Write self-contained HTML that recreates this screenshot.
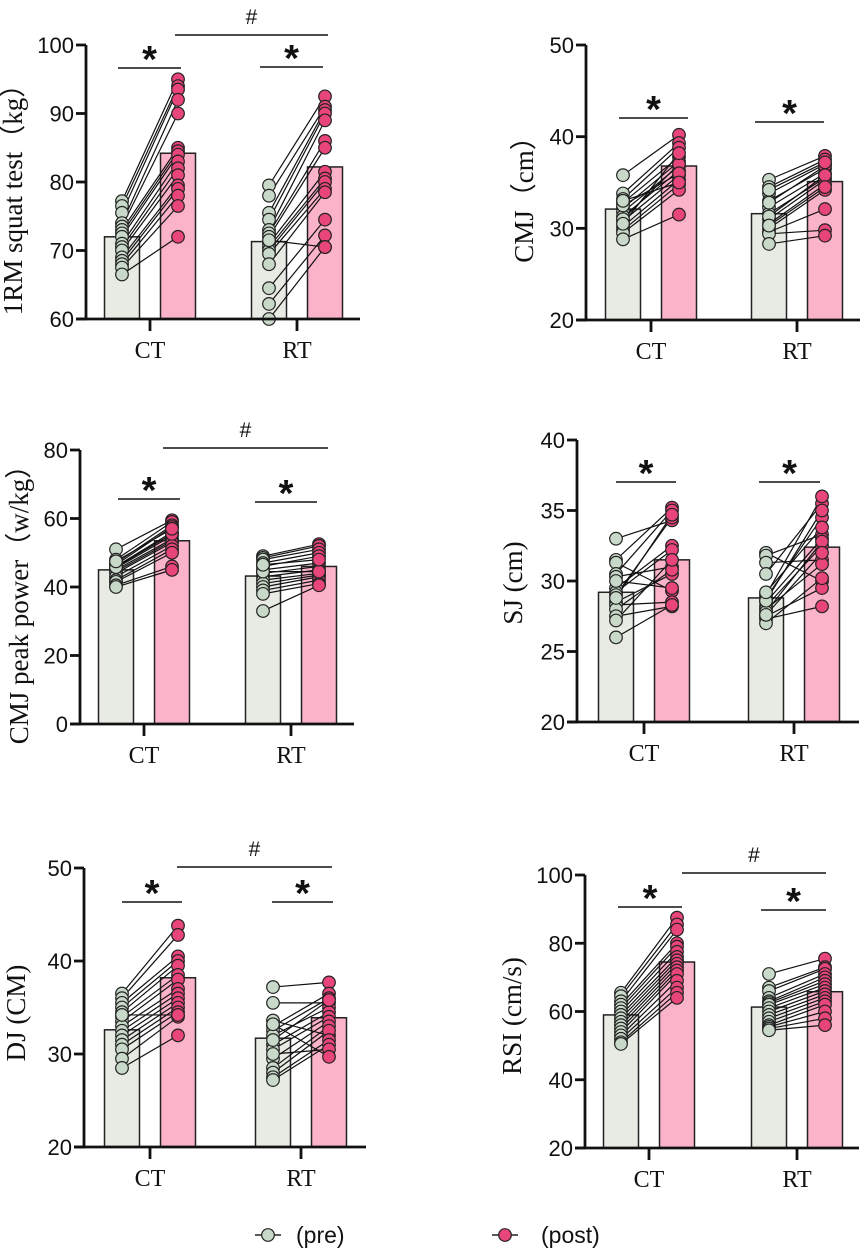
<!DOCTYPE html>
<html><head><meta charset="utf-8"><style>
html,body{margin:0;padding:0;background:#fff}
svg{display:block}
</style></head><body>
<svg id="chart" width="865" height="1252" viewBox="0 0 865 1252" xmlns="http://www.w3.org/2000/svg"></svg>
<script>
// ---- data ----
const groups = ["CT", "RT"];
const squatCTpre  = [77.2,76.5,75.5,74,73.5,73,72.5,72,71,70.5,70,69,68.5,68,67.5,66.5];
const squatCTpost = [95,94,93.5,92,90,85,84.5,84,83,82,81,79.5,79,78,76.5,72];
const squatRTpre  = [79.5,78,75.5,74.5,73,72.5,72,71,70.5,70,69.5,68,64.5,62.2,60,71.5];
const squatRTpost = [92.5,91,90.5,90,89,86,85,81.5,80.5,80,79,78.5,74.5,72.2,70.5,70.5];
const squatMeans  = [72.0,84.2,71.3,82.2];
const squatTicks  = [60,70,80,90,100];

const cmjCTpre  = [35.8,33.8,33.2,32.8,32.2,31.8,31.3,30.8,30.2,29.8,29.5,28.8,31.0,32.5,30.5,33.0];
const cmjCTpost = [40.2,39.3,38.8,37.8,37.3,36.8,36.3,35.8,35.3,34.8,34.2,31.5,37.0,36.0,38.2,35.0];
const cmjRTpre  = [35.3,34.5,33.8,33.0,32.3,31.6,31.0,30.5,30.0,29.6,29.4,28.3,32.8,31.3,30.3,34.2];
const cmjRTpost = [37.9,37.5,37.0,36.5,36.0,35.5,35.3,34.8,34.2,32.1,29.8,29.2,36.8,35.8,34.5,37.2];
const cmjMeans  = [32.1,36.8,31.6,35.1];
const cmjTicks  = [20,30,40,50];

const ppCTpre  = [51,48,47,46.5,46,45.5,45,44.5,44,43,42,41.5,40.5,40,45.8,47.5];
const ppCTpost = [59.5,59,58,57.5,56,55,54,53.5,53,52,51,50,46,45,55.5,57];
const ppRTpre  = [49,48.5,48,47,46,45,44,43,42,41,40,39,38,33,44.5,46.5];
const ppRTpost = [52.5,52,51,50,49,47,46,45,44,43.5,43,42,41,40.5,44.5,48];
const ppMeans  = [45,53.5,43.2,46];
const ppTicks  = [0,20,40,60,80];

const sjCTpre  = [33,31.5,31.3,30.5,30.3,29.5,29.2,29,28.5,28.3,28,27.5,27.2,26,28.8,30.0];
const sjCTpost = [34.3,35.2,29.3,35,31,32.5,32.2,34.5,30.5,28.5,30.8,28.2,31.5,28.3,34.7,29.5];
const sjRTpre  = [32,31.8,31.3,30.5,29,28.8,28.5,28.2,28,27.8,27.5,27.3,27,28.6,27.6,29.2];
const sjRTpost = [30,33.3,31.5,35.5,36,34.5,33,32.5,31.2,32.8,29.5,28.2,30.2,35,32,33.8];
const sjMeans  = [29.2,31.5,28.8,32.4];
const sjTicks  = [20,25,30,35,40];

const djCTpre  = [36.5,36,35.5,35,34.5,34,33.5,33,32.5,32,31.5,31,30.5,29.5,28.5,34.2];
const djCTpost = [43.8,42.8,40.5,40,39.5,38.5,38,37,36.5,36,35.5,35,34.5,34,32,34.2];
const djRTpre  = [37.2,35.5,33.6,33,32.5,32,31,30.5,29.5,28.5,28,27.5,27.2,30,33.2,31.5];
const djRTpost = [37.7,35.5,32,36.5,36,35,34.5,34,33.5,33,32.5,31.5,31,30.5,29.7,35.8];
const djMeans  = [32.6,38.2,31.7,33.9];
const djTicks  = [20,30,40,50];

const rsiCTpre  = [65.5,64.5,63,62,61,60,59,58,57,56,55,54,53,52,51,50.5];
const rsiCTpost = [87.5,85.5,84,80,79,77.5,76,75,74,73,72,71,69,67,65.5,64];
const rsiRTpre  = [71,67,66,64,63,62.5,62,61,60,59,58,57,56,55.5,55,54.5];
const rsiRTpost = [75.5,73,72.5,71,70,69,68,67,66,65,64,63,62,60,58,56];
const rsiMeans  = [59,74.5,61.3,65.8];
const rsiTicks  = [20,40,60,80,100];

const NS = "http://www.w3.org/2000/svg";
const svg = document.getElementById("chart");
function mk(tag, attrs, parent, text){
  const e = document.createElementNS(NS, tag);
  for (const k in attrs) e.setAttribute(k, attrs[k]);
  if (text !== undefined) e.textContent = text;
  (parent||svg).appendChild(e);
  return e;
}
const PRE_BAR="#e8ebe4", POST_BAR="#fbb3c9", PRE_PT="#c9d9c9", POST_PT="#e8457a";

function panel(cfg){
  const g = mk("g", {});
  
  
  const y = v => cfg.y0 + (v - cfg.vmin) / (cfg.vmax - cfg.vmin) * (cfg.y1 - cfg.y0);
  const ticksX = [cfg.ct, cfg.rt];
  const bw = 35, off = 28;
  cfg.means.forEach((m, i) => {
    const gi = Math.floor(i/2), post = i%2===1;
    const cx = ticksX[gi] + (post ? off : -off);
    const b = mk("rect", {x: cx - bw/2, y: y(m), width: bw, height: y(cfg.vmin) - y(m),
      fill: post ? POST_BAR : PRE_BAR, stroke: "#222", "stroke-width": 1.5}, g);
    
    
  });
  cfg.series.forEach((pair, gi) => {
    const xa = ticksX[gi] - off, xb = ticksX[gi] + off;
    pair[0].forEach((v, k) => {
      const l = mk("line", {x1: xa, y1: y(v), x2: xb, y2: y(pair[1][k]), stroke: "#111", "stroke-width": 1.2}, g);
      
      
    });
    pair[0].forEach(v => {
      const c = mk("circle", {cx: xa, cy: y(v), r: 6.3, fill: PRE_PT, stroke: "#222", "stroke-width": 1.2}, g);
      
      
    });
    pair[1].forEach(v => {
      const c = mk("circle", {cx: xb, cy: y(v), r: 6.3, fill: POST_PT, stroke: "#222", "stroke-width": 1.2}, g);
      
      
    });
  });
  const ax = mk("line", {x1: cfg.ax, y1: y(cfg.vmin)+1.3, x2: cfg.ax, y2: y(cfg.vmax), stroke: "#111", "stroke-width": 2.8}, g);
  
  
  const xx = mk("line", {x1: cfg.ax - 10, y1: y(cfg.vmin), x2: cfg.xend, y2: y(cfg.vmin), stroke: "#111", "stroke-width": 2.8}, g);
  
  
  cfg.ticks.forEach(t => {
    mk("line", {x1: cfg.ax - 10, y1: y(t), x2: cfg.ax, y2: y(t), stroke: "#111", "stroke-width": 2.8}, g);
    const tl = mk("text", {x: cfg.ax - 12, y: y(t) + 8, "text-anchor": "end", "font-family": "Liberation Sans, sans-serif", "font-size": 22, fill: "#111"}, g, t);
    
    
  });
  ticksX.forEach((tx, i) => {
    mk("line", {x1: tx, y1: y(cfg.vmin), x2: tx, y2: y(cfg.vmin) + 12, stroke: "#111", "stroke-width": 2.8}, g);
    const xl = mk("text", {x: tx, y: y(cfg.vmin) + 39, "text-anchor": "middle", "font-family": "Liberation Serif, serif", "font-size": 24, fill: "#111"}, g, groups[i]);
    
    
  });
  const yt = mk("text", {x: 0, y: 0, transform: `translate(${cfg.lx},${cfg.ly}) rotate(-90)`, "text-anchor": "middle", "font-family": "Liberation Serif, serif", "font-size": cfg.tfs || 27, fill: "#111"}, g, cfg.title);
  
  
  cfg.stars.forEach(s => {
    mk("line", {x1: s[0], y1: s[2], x2: s[1], y2: s[2], stroke: "#111", "stroke-width": 1.5}, g);
    const st = mk("text", {x: (s[0]+s[1])/2, y: s[2] + 4, "text-anchor": "middle", "font-family": "Liberation Sans, sans-serif", "font-weight": "bold", "font-size": 38, fill: "#111"}, g, "*");
    
    
  });
  if (cfg.hash) {
    const h = cfg.hash;
    mk("line", {x1: h[0], y1: h[2], x2: h[1], y2: h[2], stroke: "#111", "stroke-width": 1.5}, g);
    const ht = mk("text", {x: (h[0]+h[1])/2, y: h[2] - 11, "text-anchor": "middle", "font-family": "Liberation Sans, sans-serif", "font-size": 21, fill: "#111"}, g, "#");
    
    
  }
}

panel({name:"panel-1rm-squat", ax:86, xend:360, ct:150, rt:297, vmin:60, vmax:100, y0:319, y1:45,
  ticks:squatTicks, means:squatMeans, series:[[squatCTpre,squatCTpost],[squatRTpre,squatRTpost]],
  title:"1RM squat test（kg）", lx:22, ly:193, stars:[[118,181,68],[260,323,67]], hash:[175,328,35]});
panel({name:"panel-cmj", ax:586, xend:860, ct:651, rt:797, vmin:20, vmax:50, y0:320, y1:45,
  ticks:cmjTicks, means:cmjMeans, series:[[cmjCTpre,cmjCTpost],[cmjRTpre,cmjRTpost]],
  title:"CMJ（cm）", lx:533, ly:193, stars:[[619,688,118],[755,824,122]]});
panel({name:"panel-cmj-peak-power", ax:80, xend:354, ct:144, rt:291, vmin:0, vmax:80, y0:724, y1:450,
  ticks:ppTicks, means:ppMeans, series:[[ppCTpre,ppCTpost],[ppRTpre,ppRTpost]],
  title:"CMJ peak power（w/kg）", lx:28, ly:598, stars:[[118,180,499],[255,317,502]], hash:[163,328,448]});
panel({name:"panel-sj", ax:577, xend:859, ct:644, rt:794, vmin:20, vmax:40, y0:722, y1:440,
  ticks:sjTicks, means:sjMeans, series:[[sjCTpre,sjCTpost],[sjRTpre,sjRTpost]],
  title:"SJ (cm)", lx:522, ly:583, stars:[[616,676,482],[759,820,482]]});
panel({name:"panel-dj", ax:84, xend:366, ct:150, rt:301, vmin:20, vmax:50, y0:1147, y1:868,
  ticks:djTicks, means:djMeans, series:[[djCTpre,djCTpost],[djRTpre,djRTpost]],
  title:"DJ (CM)", lx:25, ly:1013, stars:[[122,182,902],[272,333,902]], hash:[177,332,867]});
panel({name:"panel-rsi", ax:585, xend:859, ct:649, rt:797, vmin:20, vmax:100, y0:1148, y1:875,
  ticks:rsiTicks, means:rsiMeans, series:[[rsiCTpre,rsiCTpost],[rsiRTpre,rsiRTpost]],
  title:"RSI (cm/s)", lx:521, ly:1016, stars:[[618,682,907],[761,826,910]], hash:[682,826,873]});

const lg = mk("g", {});


[[268,296,PRE_PT,"(pre)","legend-entry-pre"],[505,541,POST_PT,"(post)","legend-entry-post"]].forEach(d => {
  const e = mk("g", {}, lg);
  
  
  mk("line", {x1: d[0]-13, y1: 1235, x2: d[0]+13, y2: 1235, stroke: "#222", "stroke-width": 1.4}, e);
  mk("circle", {cx: d[0], cy: 1235, r: 6.3, fill: d[2], stroke: "#222", "stroke-width": 1.2}, e);
  mk("text", {x: d[1], y: 1243, "font-family": "Liberation Sans, sans-serif", "font-size": 23, fill: "#111"}, e, d[3]);
});
</script>
</body></html>
